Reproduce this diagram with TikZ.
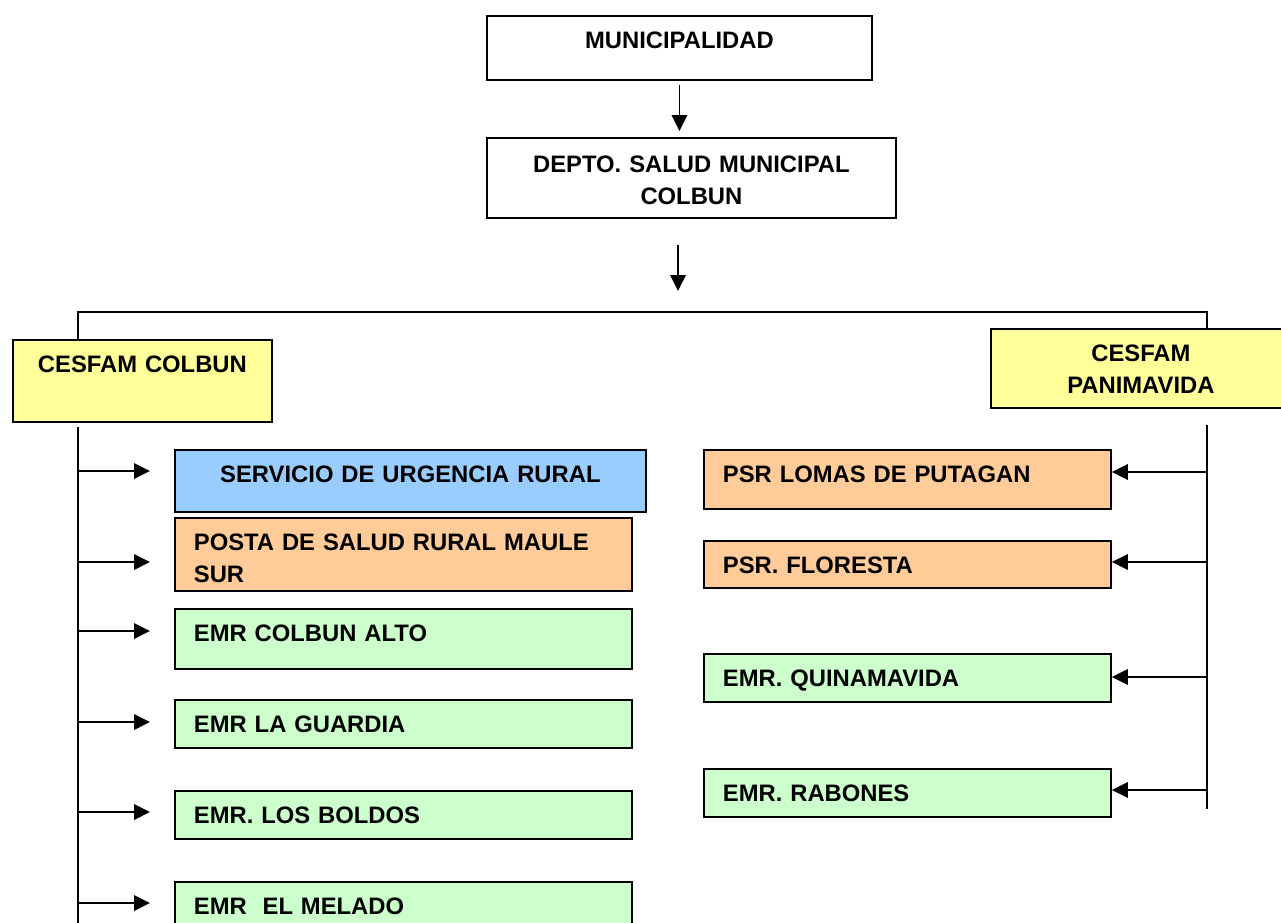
\documentclass[tikz,border=0pt]{standalone}
\usepackage{fontspec}
\setmainfont{Liberation Sans}
\usetikzlibrary{arrows.meta}
\definecolor{cesfamyellow}{RGB}{255,255,153}
\definecolor{urgblue}{RGB}{153,204,255}
\definecolor{postaorange}{RGB}{255,204,153}
\definecolor{emrgreen}{RGB}{204,255,204}
\begin{document}
\begin{tikzpicture}[x=1pt,y=-1pt,
  unit/.style={draw, line width=1.8pt, anchor=north west, inner ysep=0pt,
    text height=33pt, font=\bfseries\fontsize{23.8}{31.5}\selectfont},
  midbox/.style={unit, inner xsep=10pt, align=center},
  sidebox/.style={unit, inner xsep=19pt, align=left},
  link/.style={line width=1.8pt},
  arr/.style={link, -{Triangle[length=16pt,width=15.5pt]}}]
\useasboundingbox (0,0) rectangle (1281,922);

% top of the chart
\node[midbox, text width=365pt, text depth=31pt] (muni) at (486,15) {MUNICIPALIDAD};
\node[midbox, text width=389pt, text height=35pt, text depth=45pt] (depto) at (486,137)
    {DEPTO. SALUD MUNICIPAL\\ COLBUN};

% the two CESFAM
\node[midbox, fill=cesfamyellow, text width=239pt, text depth=49pt] (colbun) at (12,339)
    {CESFAM COLBUN};
\node[midbox, fill=cesfamyellow, text width=280pt, text depth=46pt] (panim) at (990,328)
    {CESFAM\\ PANIMAVIDA};

% units of CESFAM Colbun
\node[midbox, fill=urgblue, text width=451pt, text depth=29pt] (srv) at (174,449)
    {SERVICIO DE URGENCIA RURAL};
\node[sidebox, fill=postaorange, text width=419pt, text depth=40pt] (posta) at (174,517)
    {POSTA DE SALUD RURAL MAULE\\ SUR};
\node[sidebox, fill=emrgreen, text width=419pt, text depth=27pt] (alto) at (174,608)
    {EMR COLBUN ALTO};
\node[sidebox, fill=emrgreen, text width=419pt, text depth=15pt] (guardia) at (174,699)
    {EMR LA GUARDIA};
\node[sidebox, fill=emrgreen, text width=419pt, text depth=15pt] (boldos) at (174,790)
    {EMR. LOS BOLDOS};
\node[sidebox, fill=emrgreen, text width=419pt, text depth=40pt] (melado) at (174,881)
    {EMR\ \ EL MELADO};

% units of CESFAM Panimavida
\node[sidebox, fill=postaorange, text width=369pt, text depth=26pt] (lomas) at (703,449)
    {PSR LOMAS DE PUTAGAN};
\node[sidebox, fill=postaorange, text width=369pt, text depth=14pt] (floresta) at (703,540)
    {PSR. FLORESTA};
\node[sidebox, fill=emrgreen, text width=369pt, text depth=15pt] (quina) at (703,653)
    {EMR. QUINAMAVIDA};
\node[sidebox, fill=emrgreen, text width=369pt, text depth=15pt] (rabones) at (703,768)
    {EMR. RABONES};

% connectors
\coordinate (fork) at (678,312);
\coordinate (lbus) at (78,312);
\coordinate (rbus) at (1207,312);
\coordinate (lend) at (78,925);
\coordinate (rtop) at (1207,425);
\coordinate (rend) at (1207,809);

\draw[arr, shorten <=4pt, shorten >=6pt] (muni.south) -- (muni.south |- depto.north);
\draw[arr, shorten <=26pt, shorten >=21pt] (depto.south -| fork) -- (fork);
\draw[link] (lbus |- colbun.north) -- (lbus) -- (rbus) -- (rbus |- panim.north);
\draw[link, shorten <=4pt] (lbus |- colbun.south) -- (lend);
\draw[link] (rtop) -- (rend);

\foreach \n/\y in {srv/471,posta/562,alto/631,guardia/722,boldos/812,melado/903}{
  \coordinate (l-\n) at (78,\y);
  \draw[arr, shorten >=24pt] (l-\n) -- (l-\n -| \n.west);
}
\foreach \n/\y in {lomas/472,floresta/562,quina/677,rabones/790}{
  \coordinate (r-\n) at (1207,\y);
  \draw[arr] (r-\n) -- (r-\n -| \n.east);
}
\end{tikzpicture}
\end{document}
